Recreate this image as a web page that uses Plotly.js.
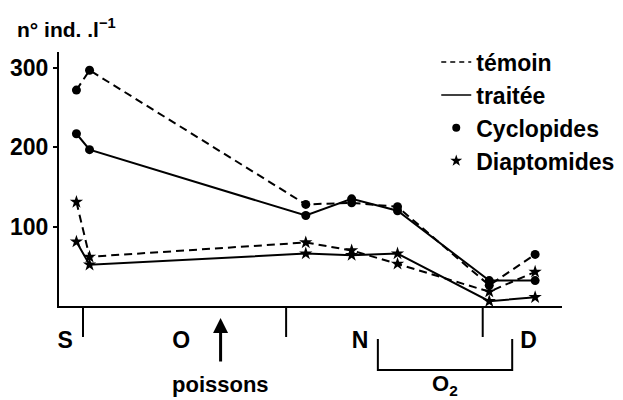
<!DOCTYPE html>
<html>
<head>
<meta charset="utf-8">
<script src="https://cdn.plot.ly/plotly-3.0.1.min.js"></script>
<style>html,body{margin:0;padding:0;background:#fff}#chart{width:623px;height:400px}</style>
</head>
<body>
<div id="chart"></div>
<script>
// sampling days, counted from 1 October (day 0)
var days = [-1, 1, 34, 41, 48, 62, 69];
var cycTemoin   = [272, 297, 128, 130, 125, 26, 65];
var cycTraitee  = [217, 197, 114, 135, 120, 32, 32];
var diapTemoin  = [131, 62, 80, 70, 53, 18, 43];
var diapTraitee = [81, 52, 66, 64, 66, 6, 11];

var monthStarts = [0, 31, 61];            // 1 Oct, 1 Nov, 1 Dec
var monthLabelDays = [-2.7, 15, 42.3, 68];
var monthLabels = ['S', 'O', 'N', 'D'];
var yTicks = [100, 200, 300];
var fishDay = 21;                          // introduction des poissons
var o2Period = [45, 65.5];                 // oxygénation

var FONT = 'Liberation Sans, Arial, sans-serif';
var dash = '8px,5px';

function series(y, isDashed, symbol, size) {
  return {
    x: days, y: y, type: 'scatter', mode: 'lines+markers', showlegend: false,
    line: {color: '#000', width: 2, dash: isDashed ? dash : 'solid'},
    marker: {color: '#000', symbol: symbol, size: size}
  };
}

var data = [
  series(cycTemoin, true, 'circle', 9),
  series(cycTraitee, false, 'circle', 9),
  series(diapTemoin, true, 'star', 10),
  series(diapTraitee, false, 'star', 10),
  {x: [null], y: [null], type: 'scatter', mode: 'lines', name: 'témoin',
   line: {color: '#000', width: 1.5, dash: '5px,4px'}},
  {x: [null], y: [null], type: 'scatter', mode: 'lines', name: 'traitée',
   line: {color: '#000', width: 1.5}},
  {x: [null], y: [null], type: 'scatter', mode: 'markers', name: 'Cyclopides',
   marker: {color: '#000', symbol: 'circle', size: 8}},
  {x: [null], y: [null], type: 'scatter', mode: 'markers', name: 'Diaptomides',
   marker: {color: '#000', symbol: 'star', size: 9}}
];

var shapes = monthStarts.map(function (d) {
  return {type: 'line', xref: 'x', yref: 'paper', x0: d, x1: d, y0: 0, y1: -0.122,
          line: {color: '#000', width: 2}};
});
shapes.push({
  type: 'path', xref: 'x', yref: 'paper',
  path: 'M ' + o2Period[0] + ',-0.13 L ' + o2Period[0] + ',-0.252 L ' + o2Period[1] +
        ',-0.252 L ' + o2Period[1] + ',-0.13',
  line: {color: '#000', width: 2}
});

var annotations = [
  {xref: 'paper', yref: 'paper', x: -0.0875, y: 1.094, xanchor: 'left', yanchor: 'middle',
   text: 'n° ind. .l<sup>−1</sup>', showarrow: false,
   font: {family: FONT, size: 21, weight: 'bold', color: '#000'}},
  {xref: 'x', yref: 'paper', x: fishDay, y: -0.047, text: '', showarrow: true,
   ax: 0, ay: 45, arrowhead: 2, arrowsize: 1, arrowwidth: 3, arrowcolor: '#000', standoff: 0},
  {xref: 'x', yref: 'paper', x: fishDay, y: -0.31, text: 'poissons', showarrow: false,
   xanchor: 'center', yanchor: 'middle',
   font: {family: FONT, size: 22, weight: 'bold', color: '#000'}},
  {xref: 'x', yref: 'paper', x: (o2Period[0] + o2Period[1]) / 2, y: -0.31,
   text: 'O<sub>2</sub>', showarrow: false, xanchor: 'center', yanchor: 'middle',
   font: {family: FONT, size: 22, weight: 'bold', color: '#000'}}
];

var layout = {
  width: 623, height: 400,
  margin: {l: 59, r: 61, t: 52, b: 94, pad: 0, autoexpand: false},
  paper_bgcolor: '#fff', plot_bgcolor: '#fff',
  font: {family: FONT, size: 22, weight: 'bold', color: '#000'},
  showlegend: true,
  legend: {x: 0.75, y: 1.045, xanchor: 'left', yanchor: 'top', bgcolor: 'rgba(0,0,0,0)',
           font: {family: FONT, size: 23, weight: 'bold', color: '#000'}, tracegroupgap: 0},
  xaxis: {
    range: [-3.66, 73.1], showgrid: false, zeroline: false,
    showline: true, linecolor: '#000', linewidth: 2,
    tickmode: 'array', tickvals: monthLabelDays, ticktext: monthLabels,
    ticks: 'outside', ticklen: 12, tickcolor: 'rgba(0,0,0,0)',
    tickfont: {family: FONT, size: 23, weight: 'bold', color: '#000'}
  },
  yaxis: {
    range: [0, 320], showgrid: false, zeroline: false,
    showline: true, linecolor: '#000', linewidth: 2,
    tickmode: 'array', tickvals: yTicks, ticktext: yTicks.map(String),
    ticks: 'outside', ticklen: 4, tickwidth: 2, tickcolor: '#000',
    tickfont: {family: FONT, size: 23, weight: 'bold', color: '#000'}
  },
  shapes: shapes,
  annotations: annotations
};

Plotly.newPlot('chart', data, layout, {displayModeBar: false, staticPlot: true});
</script>
</body>
</html>
